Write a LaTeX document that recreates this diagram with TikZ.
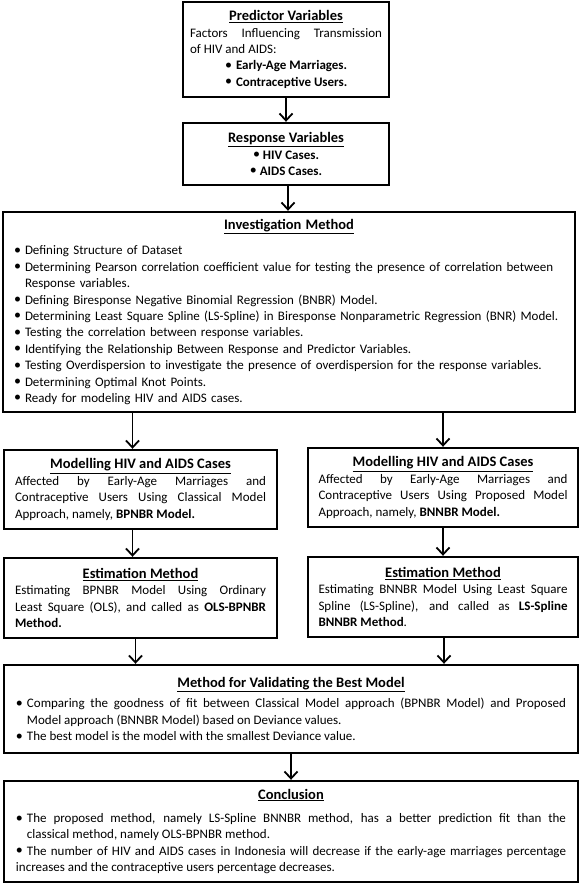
\documentclass[tikz,border=0pt]{standalone}
\usepackage{fontspec}
\setmainfont{Carlito}
\usetikzlibrary{arrows.meta, positioning}
\setlength{\parindent}{0pt}

\newcommand{\boxtitle}[1]{\centerline{\fontsize{14.5}{16.3}\selectfont\textbf{\underline{#1}}}}
\newcommand{\bigdot}{\raisebox{0.5pt}{\fontsize{14}{14}\selectfont\textbullet}}
\newcommand{\listitem}[1]{\par\hangindent=11pt\hangafter=1\noindent\makebox[11pt][l]{\bigdot}#1}
\newcommand{\dotitem}[1]{\par\noindent\hspace*{35pt}\makebox[11pt][l]{\bigdot}#1}

\tikzset{
  box/.style={draw, line width=2.4pt, inner sep=0pt, align=justify,
    font=\fontsize{13}{16.4}\selectfont},
  flow/.style={line width=1.8pt, -{Straight Barb[length=7pt, width=13pt]}}
}

\begin{document}
\begin{tikzpicture}[x=1pt, y=-1pt]
    \useasboundingbox (0,0) rectangle (582,886);

    % Variables
    \node[box, minimum width=206pt, minimum height=95pt, text width=192pt] (pred) at (286,49.5) {
        \boxtitle{Predictor Variables}
        Factors Influencing Transmission\linebreak of HIV and AIDS:
        \dotitem{\textbf{Early-Age Marriages.}}
        \dotitem{\textbf{Contraceptive Users.}}};
    \node[box, minimum width=206pt, minimum height=62pt, text width=192pt] (resp) at (286,154) {
        \boxtitle{Response Variables}
        \centerline{\bigdot\hspace{3pt}\textbf{HIV Cases.}}
        \centerline{\bigdot\hspace{3pt}\textbf{AIDS Cases.}}};

    % Investigation method
    \node[box, align=left, minimum width=572pt, minimum height=200pt, text width=550pt] (inv) at (289,312) {
        \boxtitle{Investigation Method}\par\vspace{9pt}
        \listitem{Defining Structure of Dataset}
        \listitem{Determining Pearson correlation coefficient value for testing the presence of correlation between\newline Response variables.}
        \listitem{Defining Biresponse Negative Binomial Regression (BNBR) Model.}
        \listitem{Determining Least Square Spline (LS-Spline) in Biresponse Nonparametric Regression (BNR) Model.}
        \listitem{Testing the correlation between response variables.}
        \listitem{Identifying the Relationship Between Response and Predictor Variables.}
        \listitem{Testing Overdispersion to investigate the presence of overdispersion for the response variables.}
        \listitem{Determining Optimal Knot Points.}
        \listitem{Ready for modeling HIV and AIDS cases.}};

    % Two approaches
    \node[box, minimum width=273pt, minimum height=79pt, text width=251pt] (modL) at (140.5,489.5) {
        \boxtitle{Modelling HIV and AIDS Cases}
        Affected by Early-Age Marriages and\linebreak Contraceptive Users Using Classical Model\linebreak Approach, namely, \textbf{BPNBR Model.}};
    \node[box, minimum width=270pt, minimum height=79pt, text width=249pt] (modR) at (443,487.5) {
        \boxtitle{Modelling HIV and AIDS Cases}
        Affected by Early-Age Marriages and\linebreak Contraceptive Users Using Proposed Model\linebreak Approach, namely, \textbf{BNNBR Model.}};
    \node[box, minimum width=273pt, minimum height=80pt, text width=251pt] (estL) at (140.5,598) {
        \boxtitle{Estimation Method}
        Estimating BPNBR Model Using Ordinary\linebreak Least Square (OLS), and called as \textbf{OLS-BPNBR}\linebreak \textbf{Method.}};
    \node[box, minimum width=270pt, minimum height=80pt, text width=249pt] (estR) at (443,597) {
        \boxtitle{Estimation Method}
        Estimating BNNBR Model Using Least Square\linebreak Spline (LS-Spline), and called as \textbf{LS-Spline}\linebreak \textbf{BNNBR Method}.};

    % Validation and conclusion
    \node[box, minimum width=574pt, minimum height=88pt, text width=550pt] (val) at (291,709) {
        \boxtitle{Method for Validating the Best Model}\par\vspace{4pt}
        \listitem{Comparing the goodness of fit between Classical Model approach (BPNBR Model) and Proposed\linebreak Model approach (BNNBR Model) based on Deviance values.}
        \listitem{The best model is the model with the smallest Deviance value.}};
    \node[box, minimum width=574pt, minimum height=101pt, text width=550pt] (conc) at (291,831.5) {
        \boxtitle{Conclusion}\par\vspace{7pt}
        \listitem{The proposed method, namely LS-Spline BNNBR method, has a better prediction fit than the\linebreak classical method, namely OLS-BPNBR method.}
        \listitem{The number of HIV and AIDS cases in Indonesia will decrease if the early-age marriages percentage\linebreak increases and the contraceptive users percentage decreases.}};

    % Arrows
    \draw[flow] (pred) -- (resp);
    \draw[flow] ([xshift=2pt]resp.south) -- ([xshift=2pt]resp.south |- inv.north);
    \draw[flow] ([xshift=-8pt]modL.north |- inv.south) -- ([xshift=-8pt]modL.north);
    \draw[flow] (modR.north |- inv.south) -- (modR.north);
    \draw[flow] ([xshift=-8pt]modL.south) -- ([xshift=-8pt]estL.north);
    \draw[flow] (modR) -- (estR);
    \draw[flow] ([xshift=-5pt]estL.south) -- ([xshift=-5pt]estL.south |- val.north);
    \draw[flow] ([xshift=1pt]estR.south) -- ([xshift=1pt]estR.south |- val.north);
    \draw[flow] (val) -- (conc);
\end{tikzpicture}
\end{document}
